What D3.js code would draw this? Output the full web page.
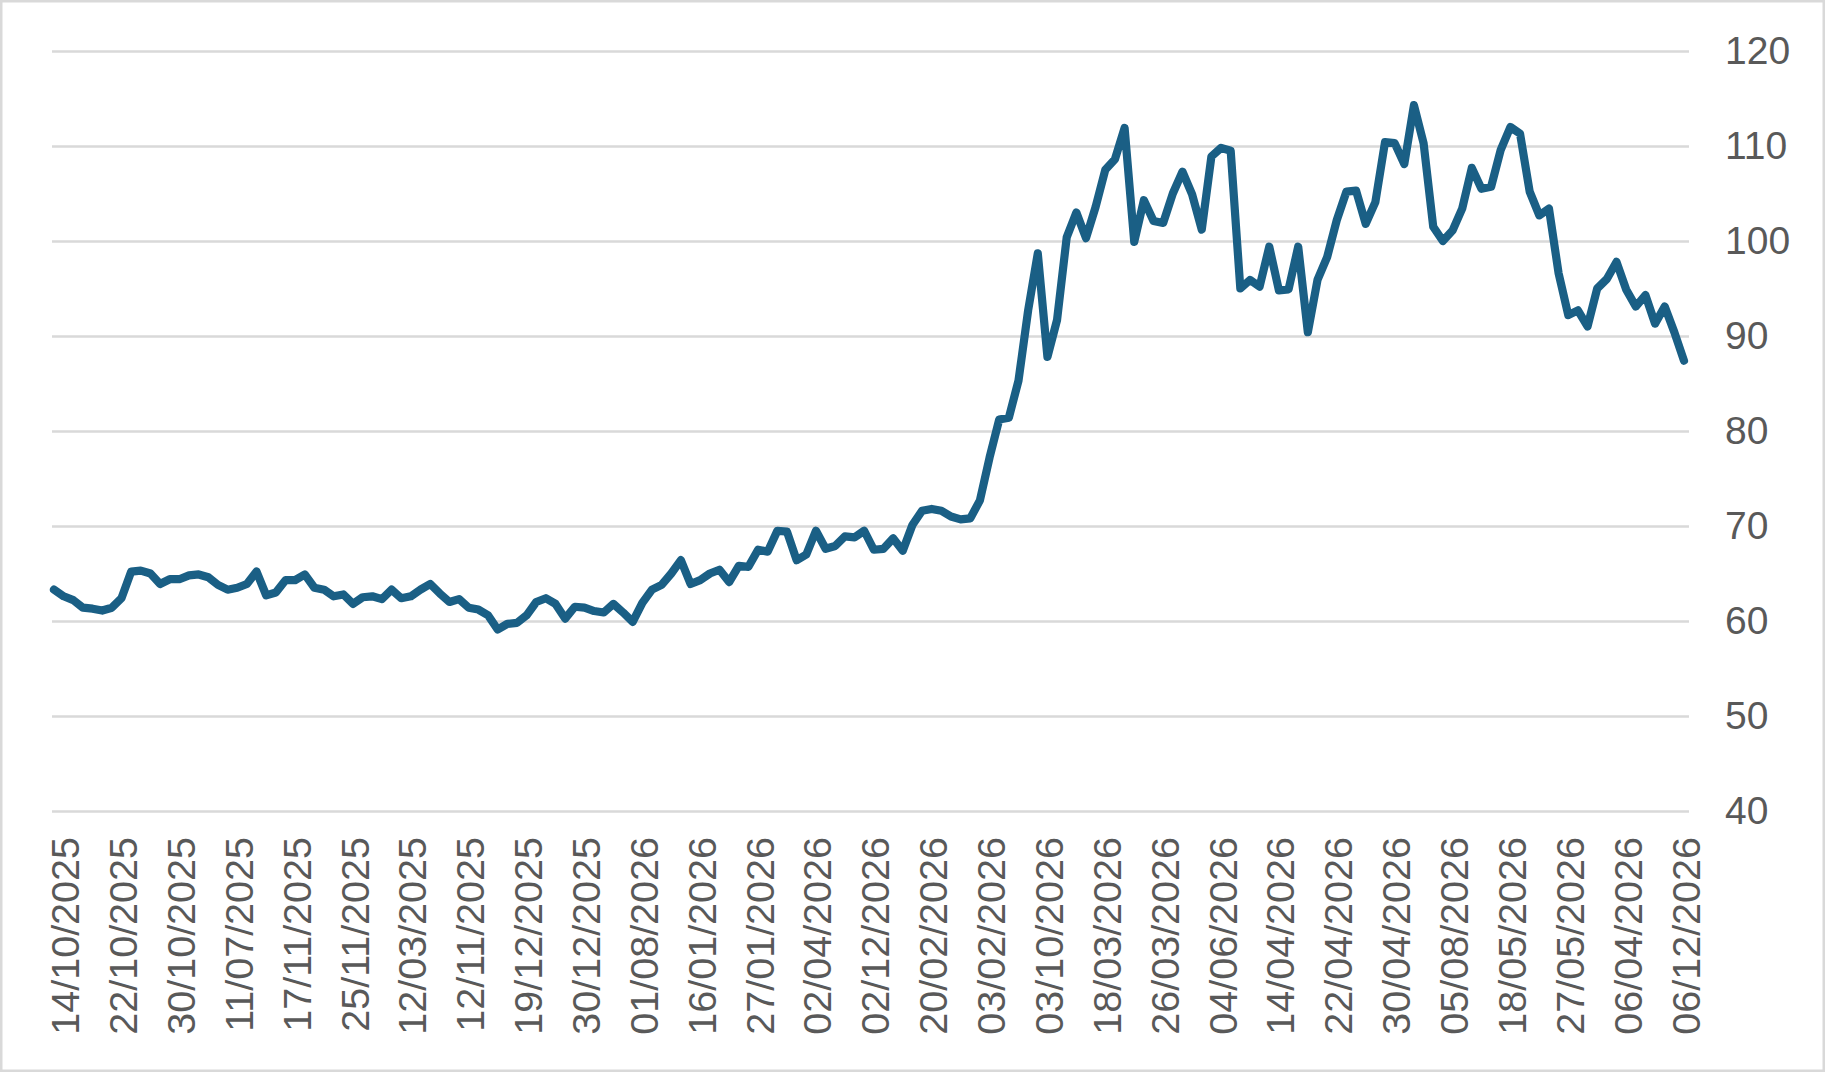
<!DOCTYPE html>
<html>
<head>
<meta charset="utf-8">
<script src="https://cdn.jsdelivr.net/npm/d3@7"></script>
<style>
  html, body { margin: 0; padding: 0; background: #ffffff; }
  svg { display: block; }
</style>
</head>
<body>
<svg id="chart" width="1825" height="1073"></svg>
<script>
// ---- data ----
const values = [
  63.3, 62.6, 62.2, 61.4, 61.3, 61.1, 61.4, 62.4, 65.2, 65.3,
  65.0, 63.9, 64.4, 64.4, 64.8, 64.9, 64.6, 63.8, 63.3, 63.5,
  63.9, 65.2, 62.7, 63.0, 64.3, 64.3, 64.9, 63.5, 63.3, 62.6,
  62.8, 61.8, 62.5, 62.6, 62.3, 63.3, 62.4, 62.6, 63.3, 63.9,
  62.9, 62.0, 62.3, 61.4, 61.2, 60.6, 59.1, 59.7, 59.8, 60.6,
  62.0, 62.4, 61.8, 60.25, 61.5, 61.4, 61.05, 60.9, 61.8, 60.9,
  59.9, 61.9, 63.3, 63.8, 65.0, 66.4, 63.9, 64.3, 65.0, 65.4,
  64.1, 65.8, 65.7, 67.5, 67.3, 69.5, 69.4, 66.4, 67.0, 69.5,
  67.6, 67.9, 68.9, 68.8, 69.5, 67.5, 67.6, 68.7, 67.4, 70.1,
  71.6, 71.8, 71.6, 71.0, 70.7, 70.8, 72.7, 77.2, 81.2, 81.4,
  85.3, 92.7, 98.7, 87.8, 91.7, 100.4, 103.0, 100.3, 103.6, 107.5,
  108.6, 111.9, 99.9, 104.3, 102.1, 101.9, 105.0, 107.3, 104.9, 101.2,
  108.9, 109.8, 109.5, 95.0, 95.9, 95.2, 99.4, 94.8, 94.9, 99.4,
  90.4, 95.9, 98.3, 102.2, 105.2, 105.3, 101.8, 104.1, 110.4, 110.3,
  108.1, 114.3, 110.3, 101.5, 100.0, 101.1, 103.4, 107.7, 105.5, 105.7,
  109.6, 112.0, 111.3, 105.2, 102.7, 103.4, 96.6, 92.2, 92.7, 91.0,
  95.0, 96.0, 97.8, 94.9, 93.1, 94.3, 91.3, 93.1, 90.4, 87.4
];

// category labels shown on the x axis (every 6th trading day, starting at index 1)
const tickLabels = [
  "14/10/2025", "22/10/2025", "30/10/2025", "11/07/2025", "17/11/2025",
  "25/11/2025", "12/03/2025", "12/11/2025", "19/12/2025", "30/12/2025",
  "01/08/2026", "16/01/2026", "27/01/2026", "02/04/2026", "02/12/2026",
  "20/02/2026", "03/02/2026", "03/10/2026", "18/03/2026", "26/03/2026",
  "04/06/2026", "14/04/2026", "22/04/2026", "30/04/2026", "05/08/2026",
  "18/05/2026", "27/05/2026", "06/04/2026", "06/12/2026"
];
const tickIndices = tickLabels.map((d, k) => 1 + 6 * k);

const yTicks = [40, 50, 60, 70, 80, 90, 100, 110, 120];

// ---- layout ----
const W = 1825, H = 1073;
const plotLeft = 52, plotRight = 1689;
const svg = d3.select("#chart");
const font = "'Liberation Sans', Arial, sans-serif";
const textColor = "#595959";
const gridColor = "#d9d9d9";
const lineColor = "#1a5f85";

// outer border
svg.append("rect")
  .attr("x", 1.25).attr("y", 1.25)
  .attr("width", W - 2.5).attr("height", H - 3.5)
  .attr("fill", "#ffffff")
  .attr("stroke", gridColor)
  .attr("stroke-width", 2.5);

const x = d3.scalePoint()
  .domain(d3.range(values.length))
  .range([54, 1684]);

const y = d3.scaleLinear()
  .domain([40, 120])
  .range([811, 51]);

// gridlines + right-hand y labels
const yAxis = d3.axisRight(y)
  .tickValues(yTicks)
  .tickSize(-(plotRight - plotLeft))
  .tickPadding(0)
  .tickFormat(d3.format("d"));

const gY = svg.append("g")
  .attr("transform", `translate(${plotRight},0)`)
  .call(yAxis);
gY.select(".domain").remove();
gY.selectAll(".tick line")
  .attr("stroke", gridColor)
  .attr("stroke-width", 2.3);
gY.selectAll(".tick text")
  .attr("x", 1725 - plotRight)
  .attr("dy", "0.32em")
  .attr("fill", textColor)
  .style("font-family", font)
  .style("font-size", "39px")
  .attr("text-anchor", "start");

// x axis labels (rotated)
const xAxis = d3.axisBottom(x)
  .tickValues(tickIndices)
  .tickSize(0)
  .tickPadding(0)
  .tickFormat((d, k) => tickLabels[k]);

const gX = svg.append("g")
  .attr("transform", `translate(0,837)`)
  .call(xAxis);
gX.select(".domain").remove();
gX.selectAll(".tick line").remove();
gX.selectAll(".tick text")
  .attr("transform", "rotate(-90)")
  .attr("x", 0)
  .attr("y", 0)
  .attr("dy", "0.38em")
  .attr("text-anchor", "end")
  .attr("fill", textColor)
  .style("font-family", font)
  .style("font-size", "39.5px");

// line
const line = d3.line()
  .x((d, i) => x(i))
  .y(d => y(d));

svg.append("path")
  .datum(values)
  .attr("fill", "none")
  .attr("stroke", lineColor)
  .attr("stroke-width", 8.2)
  .attr("stroke-linejoin", "round")
  .attr("stroke-linecap", "round")
  .attr("d", line);
</script>
</body>
</html>
